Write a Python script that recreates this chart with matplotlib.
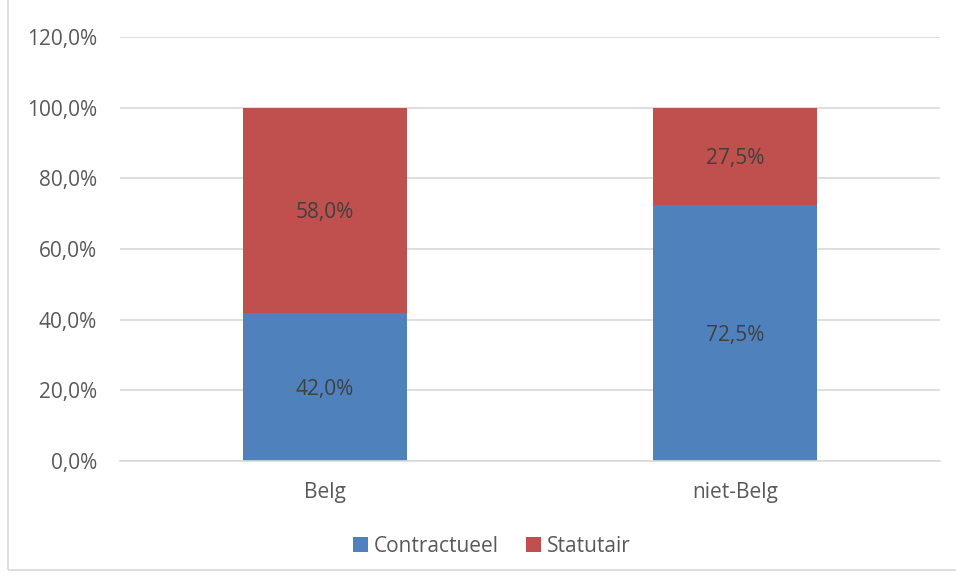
import numpy as np
import matplotlib.pyplot as plt
from matplotlib.patches import Rectangle
from matplotlib.ticker import FuncFormatter

plt.rcParams['font.family'] = ['Open Sans', 'DejaVu Sans']

categories = ['Belg', 'niet-Belg']
contractueel = [42.0, 72.5]
statutair = [58.0, 27.5]
series_names = ['Contractueel', 'Statutair']

blue = '#4F81BD'
red = '#C0504D'

fig = plt.figure(figsize=(9.56, 5.78), dpi=100)
ax = fig.add_axes([120 / 956, 117 / 578, 820 / 956, 424 / 578])

x = np.arange(len(categories))
b1 = ax.bar(x, contractueel, width=0.4, color=blue, zorder=2, label=series_names[0])
b2 = ax.bar(x, statutair, width=0.4, bottom=contractueel, color=red, zorder=2, label=series_names[1])

# labels in the middle of each segment
for bars, vals, bottoms in [(b1, contractueel, [0, 0]), (b2, statutair, contractueel)]:
    for bar, v, b in zip(bars, vals, bottoms):
        ax.text(bar.get_x() + bar.get_width() / 2, b + v / 2,
                ('%.1f%%' % v).replace('.', ','),
                ha='center', va='center_baseline', fontsize=15, color='#404040', zorder=3)

ax.set_xlim(-0.5, 1.5)
ax.set_ylim(0, 120)
ax.set_yticks(np.arange(0, 121, 20))
ax.yaxis.set_major_formatter(FuncFormatter(lambda v, p: ('%.1f%%' % v).replace('.', ',')))
ax.set_xticks(x)
ax.set_xticklabels(categories)
ax.grid(axis='y', color='#D9D9D9', linewidth=1.2, zorder=0)
for s in ['top', 'right', 'left']:
    ax.spines[s].set_visible(False)
ax.spines['bottom'].set_color('#D9D9D9')
ax.spines['bottom'].set_linewidth(1.2)
ax.tick_params(axis='both', length=0, labelsize=15, labelcolor='#595959')
ax.tick_params(axis='y', pad=16.5)
ax.tick_params(axis='x', pad=15)

ax.legend(loc='center', bbox_to_anchor=(492 / 956, 32 / 578), bbox_transform=fig.transFigure,
          ncol=2, frameon=False, fontsize=15, handlelength=0.7, handleheight=0.7,
          handletextpad=0.3, columnspacing=1.3, labelcolor='#595959')

fig.patches.append(Rectangle((8 / 956, 8 / 578), 1.2, 1.2, transform=fig.transFigure,
                             fill=False, edgecolor='#D9D9D9', linewidth=1.2))

fig.savefig('out.png', dpi=100)
